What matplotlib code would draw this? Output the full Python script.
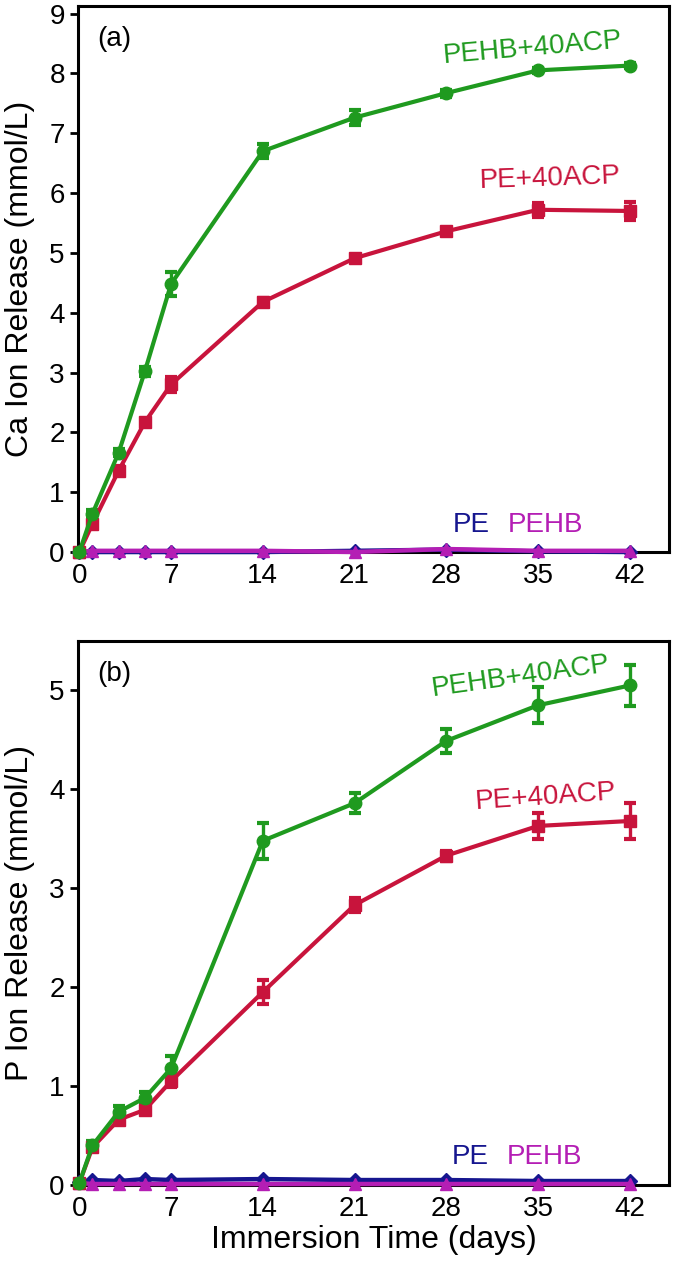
import numpy as np
import matplotlib
matplotlib.use("Agg")
import matplotlib.pyplot as plt

plt.rcParams["font.family"] = ["Liberation Sans", "DejaVu Sans"]

# ─── Data ────────────────────────────────────────────────────────────────
DAYS = [0, 1, 3, 5, 7, 14, 21, 28, 35, 42]
XTICKS = [0, 7, 14, 21, 28, 35, 42]

# (a) Ca ion release (mmol/L)
ca_pehb_acp     = [0.0, 0.64, 1.66, 3.02, 4.48, 6.70, 7.26, 7.67, 8.05, 8.13]
ca_pehb_acp_err = [0.02, 0.06, 0.06, 0.07, 0.20, 0.12, 0.12, 0.06, 0.04, 0.04]
ca_pe_acp       = [0.0, 0.47, 1.36, 2.17, 2.80, 4.18, 4.91, 5.36, 5.72, 5.70]
ca_pe_acp_err   = [0.02, 0.06, 0.07, 0.06, 0.12, 0.06, 0.06, 0.05, 0.12, 0.15]
ca_pe           = [0.0, 0.0, 0.0, 0.0, 0.0, 0.0, 0.02, 0.04, 0.01, 0.0]
ca_pehb         = [0.0, 0.02, 0.02, 0.02, 0.02, 0.02, 0.0, 0.05, 0.02, 0.02]

# (b) P ion release (mmol/L)
p_pehb_acp      = [0.02, 0.40, 0.74, 0.88, 1.18, 3.48, 3.86, 4.49, 4.85, 5.05]
p_pehb_acp_err  = [0.02, 0.04, 0.06, 0.06, 0.12, 0.18, 0.10, 0.12, 0.18, 0.21]
p_pe_acp        = [0.02, 0.38, 0.66, 0.76, 1.05, 1.95, 2.83, 3.33, 3.63, 3.68]
p_pe_acp_err    = [0.02, 0.04, 0.04, 0.04, 0.06, 0.12, 0.07, 0.05, 0.13, 0.18]
p_pe            = [0.03, 0.05, 0.04, 0.06, 0.05, 0.06, 0.05, 0.05, 0.04, 0.04]
p_pehb          = [0.02, 0.01, 0.01, 0.01, 0.01, 0.01, 0.01, 0.01, 0.01, 0.01]

GREEN   = "#1f9a1f"
RED     = "#c8143c"
BLUE    = "#16168f"
MAGENTA = "#b41eb4"


def draw_panel(ax, green, green_err, red, red_err, blue, magenta, ylim, yticks,
               ylabel, tag, labels):
    ax.plot(DAYS, blue, color=BLUE, lw=3.2, marker="D", ms=7, clip_on=False, zorder=3)
    ax.plot(DAYS, magenta, color=MAGENTA, lw=3.2, marker="^", ms=9, clip_on=False, zorder=4)
    for y, err, col, mk in [(red, red_err, RED, "s"), (green, green_err, GREEN, "o")]:
        ax.errorbar(DAYS, y, yerr=err, color=col, lw=3, marker=mk, ms=9,
                    elinewidth=2.4, capsize=4, capthick=3, clip_on=False, zorder=5)

    ax.set_xlim(-0.1, 45)
    ax.set_ylim(*ylim)
    ax.set_xticks(XTICKS)
    ax.set_yticks(yticks)
    ax.tick_params(axis="x", length=0, labelsize=20, pad=8)
    ax.tick_params(axis="y", length=6, width=2, labelsize=20, direction="out")
    for sp in ax.spines.values():
        sp.set_linewidth(2.2)
    ax.set_ylabel(ylabel, fontsize=23, labelpad=10)
    ax.text(0.061, 0.94, tag, transform=ax.transAxes, fontsize=20,
            ha="center", va="center")

    for txt, x, y, rot, col in labels:
        ax.text(x, y, txt, color=col, fontsize=20, rotation=rot,
                ha="center", va="center")


fig = plt.figure(figsize=(6.75, 12.69), dpi=100)
ax_a = fig.add_axes([0.1156, 0.565, 0.8756, 0.4300])
ax_b = fig.add_axes([0.1156, 0.0662, 0.8756, 0.4287])

draw_panel(ax_a, ca_pehb_acp, ca_pehb_acp_err, ca_pe_acp, ca_pe_acp_err,
           ca_pe, ca_pehb, (0, 9.12), range(0, 10), "Ca Ion Release (mmol/L)", "(a)",
           [("PEHB+40ACP", 34.6, 8.42, 5, GREEN),
            ("PE+40ACP", 35.9, 6.25, 2, RED),
            ("PE", 29.9, 0.45, 0, BLUE),
            ("PEHB", 35.6, 0.45, 0, MAGENTA)])

draw_panel(ax_b, p_pehb_acp, p_pehb_acp_err, p_pe_acp, p_pe_acp_err,
           p_pe, p_pehb, (0, 5.5), range(0, 6), "P Ion Release (mmol/L)", "(b)",
           [("PEHB+40ACP", 33.7, 5.14, 8, GREEN),
            ("PE+40ACP", 35.6, 3.92, 4, RED),
            ("PE", 29.8, 0.28, 0, BLUE),
            ("PEHB", 35.5, 0.28, 0, MAGENTA)])
ax_b.set_xlabel("Immersion Time (days)", fontsize=23, labelpad=2)

fig.savefig("out.png", dpi=100)
